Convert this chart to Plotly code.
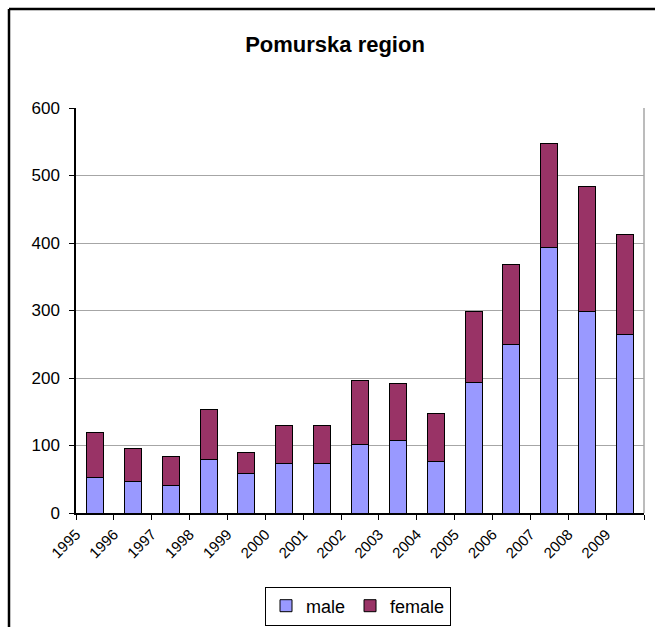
import plotly.graph_objects as go

years = ["1995", "1996", "1997", "1998", "1999", "2000", "2001", "2002",
         "2003", "2004", "2005", "2006", "2007", "2008", "2009"]
male = [52, 47, 41, 79, 59, 73, 73, 101, 108, 77, 194, 249, 393, 299, 265]
total = [120, 95, 84, 154, 89, 129, 129, 196, 192, 147, 299, 368, 547, 484, 413]
female = [t - m for t, m in zip(total, male)]
y_ticks = [0, 100, 200, 300, 400, 500, 600]

W, H = 655, 627
L, R, T, B = 76, 11, 108, 114
pw, ph = W - L - R, H - T - B

xpos = [i + 0.5 for i in range(len(years))]
font = "Liberation Sans, Arial, sans-serif"

fig = go.Figure()
fig.add_trace(go.Bar(x=xpos, y=male, name="male", width=0.45,
                     marker=dict(color="#9999FF", line=dict(color="#000000", width=1))))
fig.add_trace(go.Bar(x=xpos, y=female, name="female", width=0.45,
                     marker=dict(color="#993366", line=dict(color="#000000", width=1))))

def px_x(p):
    return (p - L) / pw

def px_y(p):
    return (H - B - p) / ph

fig.update_layout(
    width=W, height=H,
    margin=dict(l=L, r=R, t=T, b=B, autoexpand=False),
    barmode="stack",
    paper_bgcolor="white", plot_bgcolor="white",
    font=dict(family=font, size=15, color="#000000"),
    title=dict(text="<b>Pomurska region</b>", x=px_x(335), xref="paper", xanchor="center",
               y=1 - 44 / H, yanchor="middle", font=dict(size=22, family=font)),
    showlegend=True,
    legend=dict(orientation="h", x=px_x(358), xanchor="center", y=px_y(606), yanchor="middle",
                bordercolor="#000000", borderwidth=1, bgcolor="white",
                font=dict(size=18, family=font), traceorder="normal",
                itemwidth=30, tracegroupgap=0),
    xaxis=dict(range=[0, len(years)], tickmode="array",
               tickvals=list(range(len(years) + 1)), ticktext=years + [""],
               tickangle=-45, ticks="outside", ticklen=5, tickcolor="#000000",
               showline=True, linecolor="#000000", linewidth=1.5,
               showgrid=False, zeroline=False, fixedrange=True,
               tickfont=dict(size=15, family=font)),
    yaxis=dict(range=[0, 600], tickmode="array", tickvals=y_ticks,
               ticks="outside", ticklen=5, tickcolor="#000000",
               showline=True, linecolor="#000000", linewidth=1.5,
               showgrid=True, gridcolor="#a6a6a6", gridwidth=1, zeroline=False,
               ticklabelstandoff=6, fixedrange=True,
               tickfont=dict(size=17, family=font)),
    bargap=0.5,
    shapes=[
        dict(type="line", xref="paper", yref="paper", x0=1, x1=1, y0=0, y1=1,
             line=dict(color="#a6a6a6", width=1.5), layer="below"),
        dict(type="line", xref="paper", yref="paper", x0=px_x(9), x1=px_x(W + 20),
             y0=px_y(9), y1=px_y(9), line=dict(color="#000000", width=2.5)),
        dict(type="line", xref="paper", yref="paper", x0=px_x(9), x1=px_x(9),
             y0=px_y(9), y1=px_y(H + 20), line=dict(color="#000000", width=2.5)),
    ],
)

fig.write_html("out.html", post_script="document.body.style.margin='0';",
               config={"displayModeBar": False})
